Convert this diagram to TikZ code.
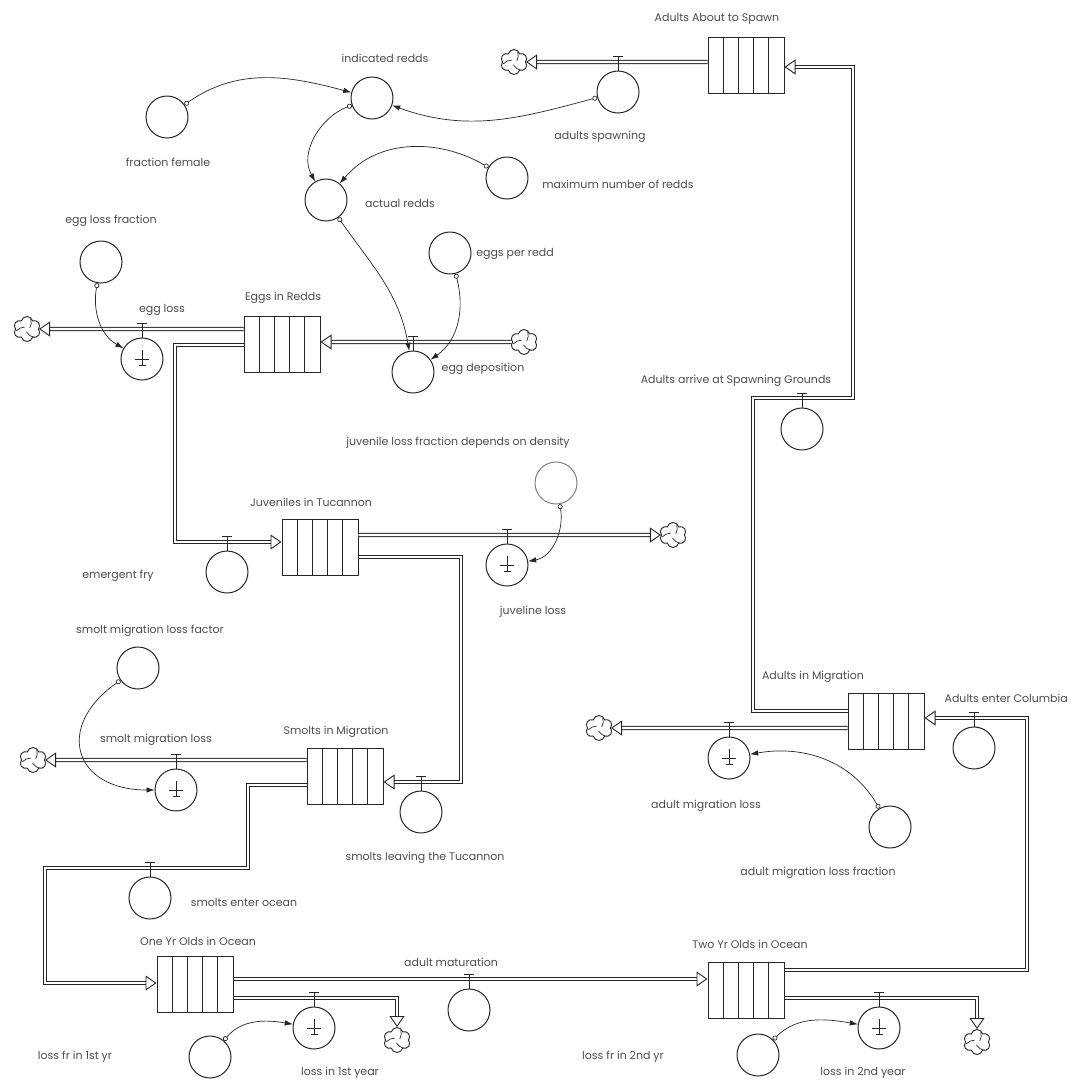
\documentclass[tikz,border=0pt]{standalone}
\usepackage{fontspec}
\setmainfont{Poppins}
\usetikzlibrary{shapes.symbols,arrows.meta,calc,positioning}

\tikzset{
  stock/.style={rectangle, draw=black!85, line width=1pt, minimum width=76pt, minimum height=56pt, inner sep=0pt,
    path picture={\foreach \f in {0.2,0.4,0.6,0.8}
      \draw[black!85, line width=1pt] ($(path picture bounding box.south west)!\f!(path picture bounding box.south east)$)
        -- ($(path picture bounding box.north west)!\f!(path picture bounding box.north east)$);}},
  conv/.style={circle, draw=black!85, line width=1pt, minimum size=42pt, inner sep=0pt},
  lossconv/.style={conv, path picture={
      \draw[black!85, line width=0.8pt] ([yshift=9pt]path picture bounding box.center) -- ([yshift=-6pt]path picture bounding box.center)
        ([xshift=-7pt]path picture bounding box.center) -- ([xshift=7pt]path picture bounding box.center)
        ([shift={(-3.5pt,-6pt)}]path picture bounding box.center) -- ([shift={(3.5pt,-6pt)}]path picture bounding box.center);}},
  cloudy/.style={cloud, cloud puffs=6, aspect=1, draw=black!85, line width=0.9pt, minimum width=27pt, minimum height=25pt, inner sep=0pt,
    path picture={\foreach \a in {20,140,260}
      \draw[black!85, line width=0.7pt] ([shift={(\a:3pt)}]path picture bounding box.center)
        to[bend right=20] ([shift={(\a+50:11pt)}]path picture bounding box.center);}},
  pipe/.style={draw=black!85, line width=0.9pt, double=white, double distance=2.4pt},
  pipetip/.style={-{Triangle[open, length=11pt, width=15pt]}},
  link/.style={draw=black!85, line width=0.7pt, {Circle[open, length=5pt, width=5pt]}-{Latex[length=8pt, width=5.5pt]}},
  valvebar/.style={draw=black!85, line width=1pt},
  lbl/.style={font=\fontsize{11}{13}\selectfont, text=black!70, inner sep=1pt}
}

\begin{document}
\begin{tikzpicture}[x=1pt, y=1pt]
\useasboundingbox (0,0) rectangle (1071,-1080);

% Stocks
\node[stock] (aas) at (746,-65) {};
\node[stock] (eggs) at (282,-344) {};
\node[stock] (juv) at (320,-547) {};
\node[stock] (smolt) at (345,-776) {};
\node[stock] (aim) at (886,-721) {};
\node[stock] (one) at (195,-984) {};
\node[stock] (two) at (746,-990) {};

% Clouds
\node[cloudy] (c1) at (514,-62) {};
\node[cloudy] (c2) at (27,-329) {};
\node[cloudy] (c3) at (524,-342) {};
\node[cloudy] (c4) at (673,-535) {};
\node[cloudy] (c5) at (33,-760) {};
\node[cloudy] (c6) at (599,-728) {};
\node[cloudy] (c7) at (397,-1040) {};
\node[cloudy] (c8) at (977,-1042) {};

% Flows
\draw[pipe, pipetip] (aas.west |- 0,-62) -- (c1.east);
\draw[pipe, pipetip] (aim.west |- 0,-711) -| (753,-398) -| (853,-67) -- (aas.east |- 0,-67);
\draw[pipe, pipetip] (c3.west) -- (eggs.east |- c3);
\draw[pipe, pipetip] (eggs.west |- 0,-329) -- (c2.east);
\draw[pipe, pipetip] (eggs.west |- 0,-345) -| (175,-542) -- (juv.west |- 0,-542);
\draw[pipe, pipetip] (juv.east |- 0,-535) -- (c4.west);
\draw[pipe, pipetip] (juv.east |- 0,-557) -| (461,-782) -- (smolt.east |- 0,-782);
\draw[pipe, pipetip] (smolt.west |- 0,-760) -- (c5.east);
\draw[pipe, pipetip] (smolt.west |- 0,-785) -| (248,-868) -| (45,-983) -- (one.west |- 0,-983);
\draw[pipe, pipetip] (one.east |- 0,-979) -- (two.west |- 0,-979);
\draw[pipe, pipetip] (one.east |- 0,-998) -| (c7.north);
\draw[pipe, pipetip] (two.east |- 0,-998) -| (c8.north);
\draw[pipe, pipetip] (two.east |- 0,-970) -| (1027,-718) -- (aim.east |- 0,-718);
\draw[pipe, pipetip] (aim.west |- 0,-728) -- (c6.east);

% Flow valves
\node[conv] (asp) at (618,-92) {};
\node[conv] (aag) at (802,-429) {};
\node[conv] (eggdep) at (413,-372) {};
\node[lossconv] (eggloss) at (142,-359) {};
\node[conv] (fry) at (227,-572) {};
\node[lossconv] (juvloss) at (507,-565) {};
\node[conv] (smleave) at (421,-812) {};
\node[lossconv] (smloss) at (176,-790) {};
\node[conv] (smocean) at (150,-898) {};
\node[lossconv] (amloss) at (729,-758) {};
\node[conv] (aec) at (974,-748) {};
\node[conv] (adultmat) at (469,-1010) {};
\node[lossconv] (loss1) at (314,-1028) {};
\node[lossconv] (loss2) at (879,-1028) {};
\foreach \v in {asp,aag,eggdep,eggloss,fry,juvloss,smleave,smloss,smocean,amloss,aec,adultmat,loss1,loss2}
  \draw[valvebar] (\v.north) -- ++(0,14) ++(-5,0) -- ++(10,0);

% Converters
\node[conv] (ff) at (167,-117) {};
\node[conv] (ir) at (372,-98) {};
\node[conv] (mnr) at (507,-178) {};
\node[conv] (ar) at (326,-200) {};
\node[conv] (elf) at (101,-262) {};
\node[conv] (epr) at (450,-253) {};
\node[conv, draw=black!50] (jlf) at (556,-483) {};
\node[conv] (smlf) at (138,-668) {};
\node[conv] (amlf) at (890,-827) {};
\node[conv] (lf1) at (210,-1057) {};
\node[conv] (lf2) at (758,-1055) {};

% Connectors
\draw[link] (ff) to[out=35, in=165] (ir);
\draw[link] (asp) to[out=195, in=340] (ir);
\draw[link] (ir) to[out=200, in=120] (ar);
\draw[link] (mnr) to[out=150, in=50] (ar);
\draw[link] (ar) to[out=-55, in=100] (eggdep);
\draw[link] (epr) to[out=-75, in=35] (eggdep);
\draw[link] (elf) to[out=260, in=150] (eggloss);
\draw[link] (jlf) to[out=-80, in=10] (juvloss);
\draw[link] (smlf) to[out=215, in=180, looseness=1.8] (smloss);
\draw[link] (amlf) to[out=120, in=10] (amloss);
\draw[link] (lf1) to[out=50, in=170] (loss1);
\draw[link] (lf2) to[out=45, in=170] (loss2);

% Labels
\node[lbl] (t-aas) at (717,-19) {Adults About to Spawn};
\node[lbl] (t-ir) at (385,-58) {indicated redds};
\node[lbl] (t-asp) at (600,-137) {adults spawning};
\node[lbl] (t-ff) at (168,-162) {fraction female};
\node[lbl] (t-mnr) at (618,-184) {maximum number of redds};
\node[lbl] (t-ar) at (400,-203) {actual redds};
\node[lbl] (t-elf) at (111,-221) {egg loss fraction};
\node[lbl] (t-epr) at (515,-254) {eggs per redd};
\node[lbl] (t-eggloss) at (162,-310) {egg loss};
\node[lbl] (t-eggs) at (283,-298) {Eggs in Redds};
\node[lbl] (t-eggdep) at (483,-369) {egg deposition};
\node[lbl] (t-aag) at (736,-381) {Adults arrive at Spawning Grounds};
\node[lbl] (t-jlf) at (458,-443) {juvenile loss fraction depends on density};
\node[lbl] (t-juv) at (311,-502) {Juveniles in Tucannon};
\node[lbl] (t-fry) at (118,-576) {emergent fry};
\node[lbl] (t-juvloss) at (533,-612) {juveline loss};
\node[lbl] (t-smlf) at (150,-631) {smolt migration loss factor};
\node[lbl] (t-aim) at (813,-677) {Adults in Migration};
\node[lbl, anchor=east] (t-aec) at (1069,-698) {Adults enter Columbia};
\node[lbl] (t-smloss) at (156,-740) {smolt migration loss};
\node[lbl] (t-smolt) at (336,-732) {Smolts in Migration};
\node[lbl] (t-amloss) at (706,-806) {adult migration loss};
\node[lbl] (t-smleave) at (425,-858) {smolts leaving the Tucannon};
\node[lbl] (t-amlf) at (818,-873) {adult migration loss fraction};
\node[lbl] (t-smocean) at (244,-902) {smolts enter ocean};
\node[lbl] (t-one) at (198,-941) {One Yr Olds in Ocean};
\node[lbl] (t-adultmat) at (451,-962) {adult maturation};
\node[lbl] (t-two) at (750,-944) {Two Yr Olds in Ocean};
\node[lbl] (t-lf1) at (75,-1057) {loss fr in 1st yr};
\node[lbl] (t-loss1) at (340,-1073) {loss in 1st year};
\node[lbl] (t-lf2) at (623,-1057) {loss fr in 2nd yr};
\node[lbl] (t-loss2) at (863,-1073) {loss in 2nd year};

\end{tikzpicture}
\end{document}
